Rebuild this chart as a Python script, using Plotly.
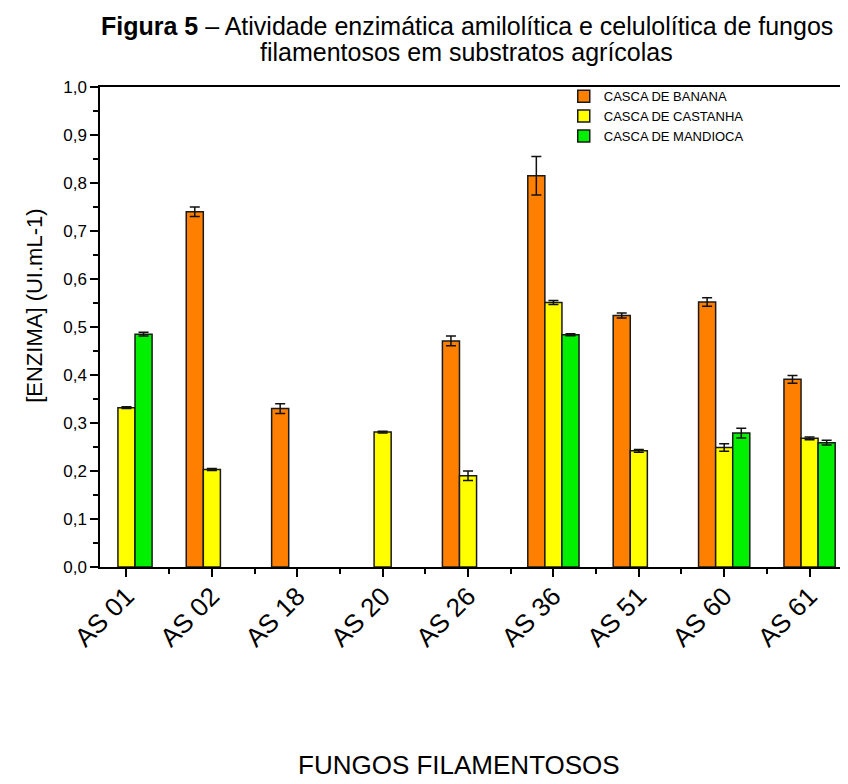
import plotly.graph_objects as go

categories = ["AS 01", "AS 02", "AS 18", "AS 20", "AS 26", "AS 36", "AS 51", "AS 60", "AS 61"]
banana = [None, 0.740, 0.330, None, 0.471, 0.815, 0.524, 0.552, 0.391]
banana_err = [0, 0.010, 0.010, 0, 0.010, 0.040, 0.005, 0.009, 0.008]
castanha = [0.332, 0.203, None, 0.281, 0.190, 0.551, 0.242, 0.249, 0.268]
castanha_err = [0.002, 0.002, 0, 0.002, 0.010, 0.004, 0.003, 0.008, 0.003]
mandioca = [0.485, None, None, None, None, 0.484, None, 0.279, 0.259]
mandioca_err = [0.004, 0, 0, 0, 0, 0.002, 0, 0.010, 0.005]
series_names = ["CASCA DE BANANA", "CASCA DE CASTANHA", "CASCA DE MANDIOCA"]
y_ticks = [0.0, 0.1, 0.2, 0.3, 0.4, 0.5, 0.6, 0.7, 0.8, 0.9, 1.0]
title_lines = ["<b>Figura 5</b> – Atividade enzimática amilolítica e celulolítica de fungos",
               "filamentosos em substratos agrícolas"]
x_title = "FUNGOS FILAMENTOSOS"
y_title = "[ENZIMA] (UI.mL-1)"

xpos = list(range(len(categories)))
FONT = "Liberation Sans, Arial, sans-serif"

fig = go.Figure()
for name, vals, errs, col in [
    (series_names[0], banana, banana_err, "#FF8000"),
    (series_names[1], castanha, castanha_err, "#FFFF00"),
    (series_names[2], mandioca, mandioca_err, "#00F000"),
]:
    fig.add_trace(go.Bar(
        x=xpos, y=vals, name=name,
        marker=dict(color=col, line=dict(color="#1a1a1a", width=1.5)),
        error_y=dict(type="data", array=errs, visible=True,
                     color="#111111", thickness=1.5, width=5),
    ))

# page body has an 8px margin, so the figure is 840x776 and offset by 8px
fig.update_layout(
    width=840, height=776,
    margin=dict(l=92, r=0, t=79, b=217),
    paper_bgcolor="white", plot_bgcolor="white",
    barmode="group", bargap=0.4, bargroupgap=0,
    separators=",.",
    font=dict(family=FONT, color="black"),
    legend=dict(
        x=0.62, xanchor="left", y=1.012, yanchor="top",
        bgcolor="rgba(0,0,0,0)", font=dict(family=FONT, size=13, color="black"),
        tracegroupgap=0,
    ),
    showlegend=True,
    annotations=[
        dict(text=title_lines[0], xref="paper", yref="paper", x=0.49, y=1.128,
             xanchor="center", yanchor="middle", showarrow=False,
             font=dict(family=FONT, size=25, color="black")),
        dict(text=title_lines[1], xref="paper", yref="paper", x=0.49, y=1.072,
             xanchor="center", yanchor="middle", showarrow=False,
             font=dict(family=FONT, size=25, color="black")),
        dict(text=x_title, xref="paper", yref="paper", x=0.48, y=-0.4125,
             xanchor="center", yanchor="middle", showarrow=False,
             font=dict(family=FONT, size=26, color="black")),
        dict(text=y_title, xref="paper", yref="paper", x=-0.087, y=0.544,
             xanchor="center", yanchor="middle", showarrow=False, textangle=-90,
             font=dict(family=FONT, size=22, color="black")),
    ],
)

fig.update_xaxes(
    range=[-0.31, 8.45],
    tickmode="array", tickvals=xpos, ticktext=categories,
    tickangle=-45, tickfont=dict(family=FONT, size=26, color="black"),
    ticklabelstandoff=-6,
    ticks="outside", ticklen=8, tickwidth=1.5, tickcolor="black",
    minor=dict(tickmode="array", tickvals=[i + 0.5 for i in xpos[:-1]] + [8.5],
               ticks="outside", ticklen=5, tickwidth=1.5, tickcolor="black"),
    showline=True, linecolor="black", linewidth=1.5, mirror=True,
    showgrid=False, zeroline=False,
)
fig.update_yaxes(
    range=[0, 1.0],
    tickmode="array", tickvals=y_ticks, tickformat=".1f",
    tickfont=dict(family=FONT, size=17, color="black"),
    ticks="outside", ticklen=8, tickwidth=1.5, tickcolor="black",
    minor=dict(dtick=0.05, ticks="outside", ticklen=5, tickwidth=1.5, tickcolor="black"),
    showline=True, linecolor="black", linewidth=1.5, mirror=False,
    showgrid=False, zeroline=False,
)

fig.write_html("out.html")
